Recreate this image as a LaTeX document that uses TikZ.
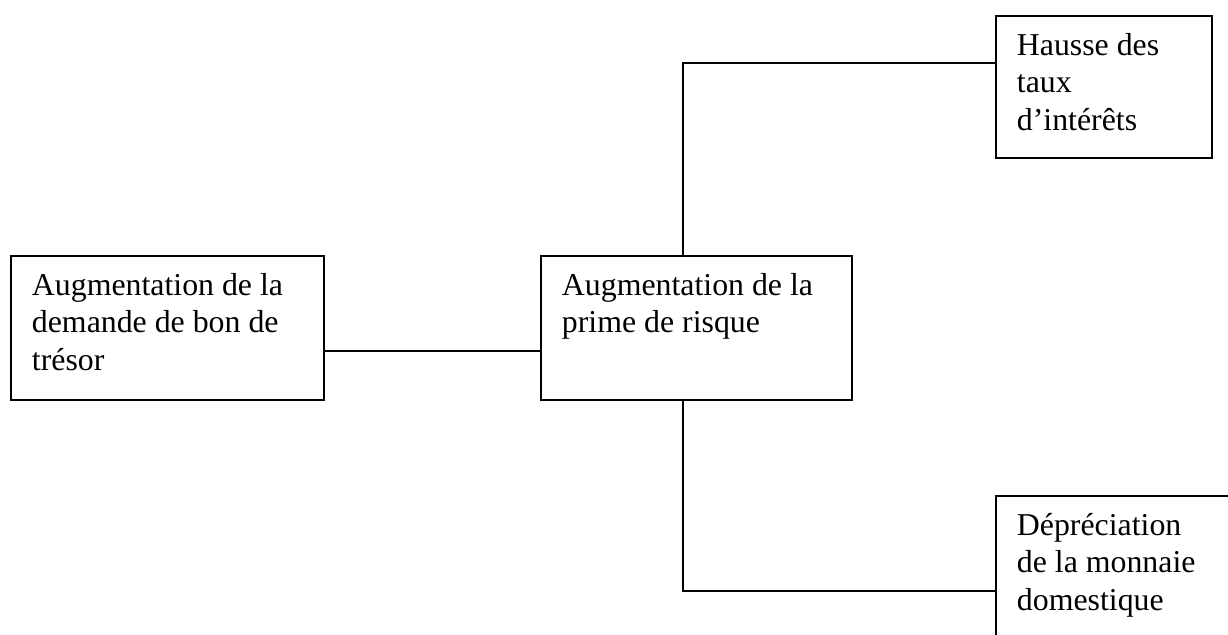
\documentclass[tikz,border=0pt]{standalone}
\usepackage{fontspec}
\setmainfont{Liberation Serif}
\newcommand{\bxt}[3]{\parbox[c][#2][t]{\dimexpr#1-15.8pt\relax}{\raggedright\rule{0pt}{15pt}#3}}
\begin{document}
\begin{tikzpicture}[x=0.377pt,y=-0.377pt,
  boxnode/.style={draw, line width=0.75pt, rectangle, anchor=north west,
    inner xsep=7.9pt, inner ysep=0pt, font=\fontsize{12pt}{14pt}\selectfont},
  link/.style={line width=0.75pt}]
\clip (0,0) rectangle (1228,635);
\fill[white] (0,0) rectangle (1228,635);
\node[boxnode] (L) at (10,255) {\bxt{118pt}{54.3pt}{Augmentation de la\\demande de bon de\\trésor}};
\node[boxnode] (M) at (540,255) {\bxt{117.2pt}{54.3pt}{Augmentation de la\\prime de risque}};
\node[boxnode] (TR) at (995,15) {\bxt{81.4pt}{53.5pt}{Hausse des\\taux\\d’intérêts}};
\node[boxnode] (BR) at (995,495) {\bxt{98pt}{60.3pt}{Dépréciation\\de la monnaie\\domestique}};
\coordinate (c1) at (0,351);
\coordinate (k1) at (683,63);
\coordinate (k2) at (683,591);
\draw[link] (L.east |- c1) -- (M.west |- c1);
\draw[link] (M.north -| k1) -- (k1) -- (TR.west |- k1);
\draw[link] (M.south -| k2) -- (k2) -- (BR.west |- k2);
\end{tikzpicture}
\end{document}
